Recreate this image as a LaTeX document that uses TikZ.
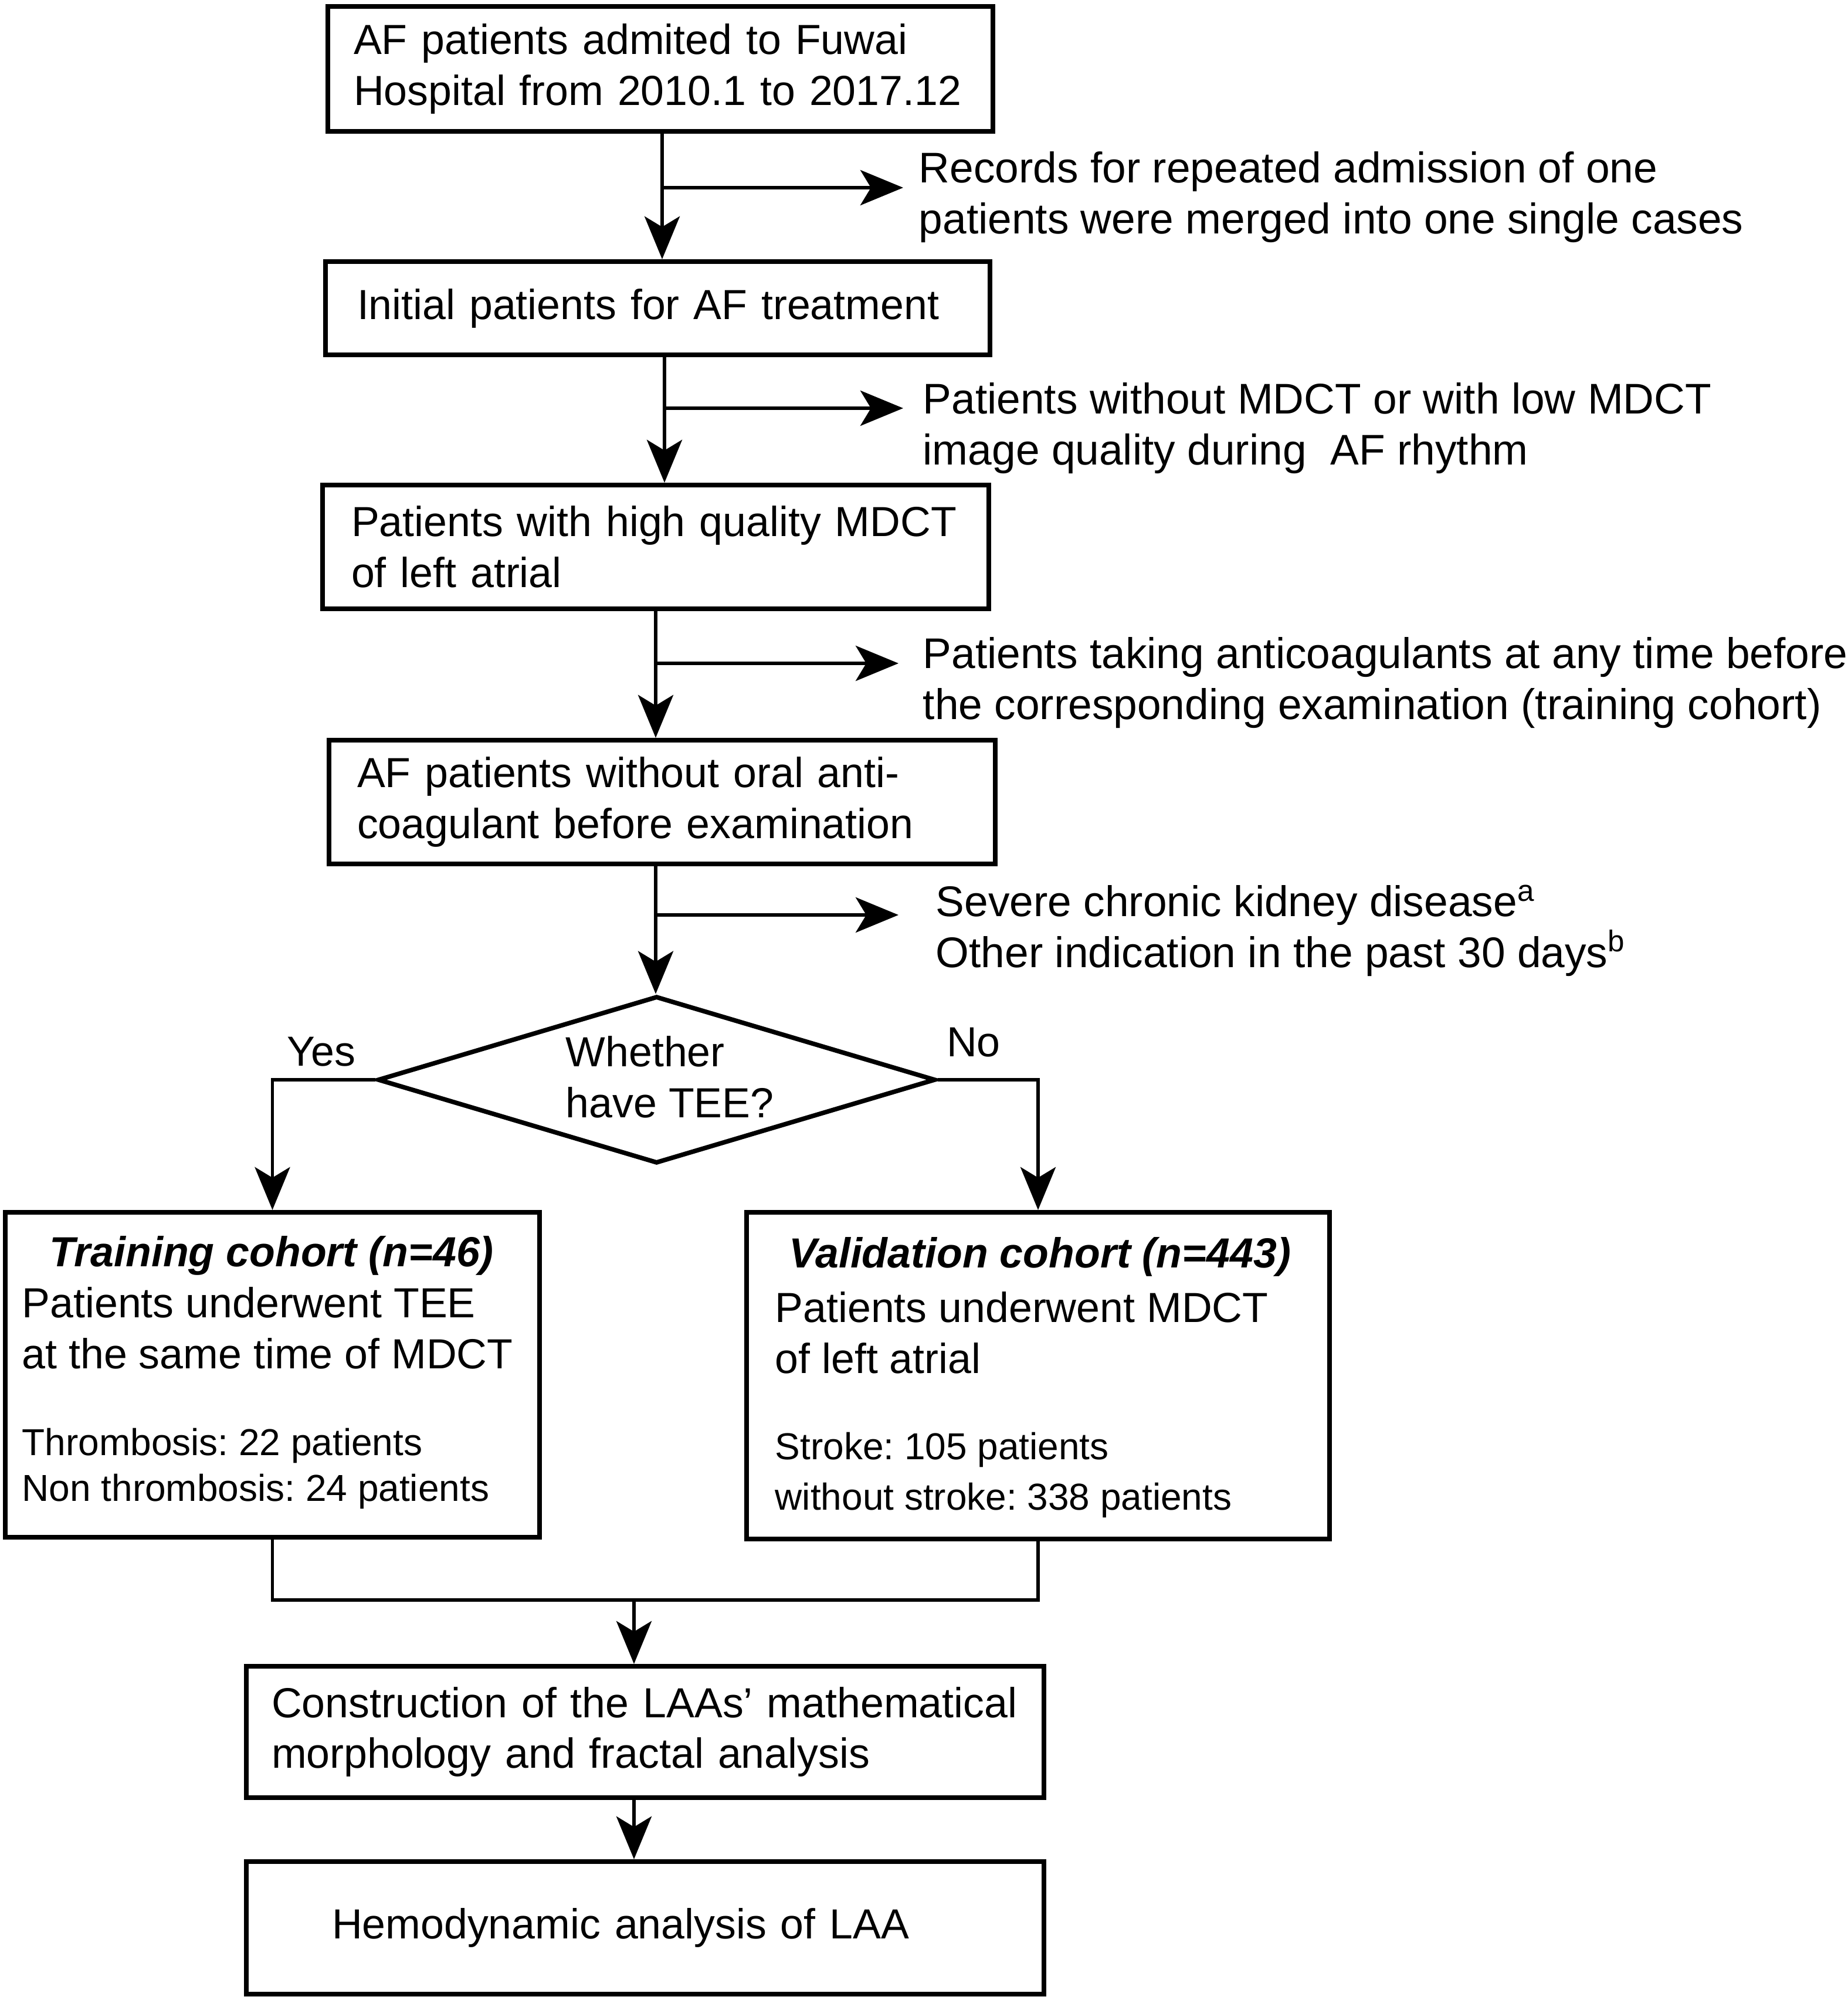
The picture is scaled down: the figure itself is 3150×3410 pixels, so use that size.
\documentclass[tikz,border=0pt]{standalone}
\usepackage{fontspec}
\setmainfont{Liberation Sans}
\usetikzlibrary{arrows.meta,shapes.geometric}

\frenchspacing
\newcommand{\bodyfont}{\fontsize{20.4}{24.7}\selectfont}
\newcommand{\notefont}{\fontsize{20.8}{24.7}\selectfont}
\newcommand{\countfont}{\fontsize{18.2}{22.4}\selectfont}

\tikzset{
  box/.style = {draw, line width=2.3pt, align=left, inner ysep=0pt},
  note/.style = {align=left, anchor=west, inner sep=0pt},
  arr/.style = {line width=1.7pt, -{Stealth[length=7.3mm, width=6mm, inset=1.8mm]}},
  link/.style = {line width=1.7pt},
}

\begin{document}
\begin{tikzpicture}[x=0.1mm, y=-0.1mm, font=\bodyfont]
    \useasboundingbox (0,0) rectangle (3150,3410);

    % main column
    \node[box, text width=104.6mm, inner xsep=4.4mm, minimum height=21.3mm] (admit) at (1126,117.5)
        {AF patients admited to Fuwai\\Hospital from 2010.1 to 2017.12};
    \node[box, text width=102.5mm, inner xsep=5.4mm, minimum height=15.9mm] (initial) at (1121.5,525.5)
        {Initial patients for AF treatment};
    \node[box, text width=103.8mm, inner xsep=4.9mm, minimum height=21.1mm] (quality) at (1118,932.5)
        {Patients with high quality MDCT\\of left atrial};
    \node[box, text width=104.0mm, inner xsep=4.8mm, minimum height=21.1mm] (noanti) at (1129,1367.5)
        {AF patients without oral anti-\\coagulant before examination};

    % exclusions on the right
    \node[note, font=\notefont] (merged) at (1566,336.5)
        {Records for repeated admission of one\\patients were merged into one single cases};
    \node[note, font=\notefont] (lowmdct) at (1573,730.5)
        {Patients without MDCT or with low MDCT\\image quality during\ \ AF rhythm};
    \node[note, font=\notefont] (anticoag) at (1573,1164.5)
        {Patients taking anticoagulants at any time before\\the corresponding examination (training cohort)};
    \node[note, font=\notefont] (exclude) at (1595,1586.5)
        {Severe chronic kidney disease\textsuperscript{a}\\Other indication in the past 30 days\textsuperscript{b}};

    % decision
    \node[diamond, draw, line width=2.2pt, inner sep=0pt, minimum width=95.1mm, minimum height=28.5mm] (tee) at (1119.5,1841) {};
    \node[note] (teetxt) at (964,1836) {Whether\\have TEE?};
    \node[inner sep=0pt] (yes) at (548,1793) {Yes};
    \node[inner sep=0pt] (no) at (1660,1777) {No};

    % cohorts
    \node[box, minimum width=91.1mm, minimum height=55.4mm] (train) at (464.5,2344) {};
    \node[inner sep=0pt, font=\bodyfont\bfseries\itshape] (trainhead) at (463,2141) {Training cohort (n=46)};
    \node[note] (trainmain) at (37,2264.5) {Patients underwent TEE\\at the same time of MDCT};
    \node[note, font=\countfont] (traincount) at (37,2504) {Thrombosis: 22 patients\\Non thrombosis: 24 patients};

    \node[box, minimum width=99.4mm, minimum height=55.7mm] (valid) at (1770,2345.5) {};
    \node[inner sep=0pt, font=\bodyfont\bfseries\itshape] (validhead) at (1773,2143) {Validation cohort (n=443)};
    \node[note] (validmain) at (1321,2272.5) {Patients underwent MDCT\\of left atrial};
    \node[note, font=\fontsize{18.2}{24.7}\selectfont] (validcount) at (1321,2515) {Stroke: 105 patients\\without stroke: 338 patients};

    % analysis
    \node[box, text width=127.4mm, inner xsep=4.3mm, minimum height=22.4mm] (morph) at (1100,2953)
        {Construction of the LAAs’ mathematical\\morphology and fractal analysis};
    \node[box, text width=106.8mm, inner xsep=14.6mm, minimum height=22.6mm] (hemo) at (1100,3287)
        {Hemodynamic analysis of LAA};

    % trunk and side arrows
    \coordinate (j1) at (1129,320);  \coordinate (t1) at (1540,320);
    \coordinate (j2) at (1133,696);  \coordinate (t2) at (1540,696);
    \coordinate (j3) at (1118,1131); \coordinate (t3) at (1532,1131);
    \coordinate (j4) at (1118,1560); \coordinate (t4) at (1532,1560);
    \draw[arr] (j1 |- admit.south) -- (j1 |- initial.north);
    \draw[arr] (j2 |- initial.south) -- (j2 |- quality.north);
    \draw[arr] (j3 |- quality.south) -- (j3 |- noanti.north);
    \draw[arr] (j4 |- noanti.south) -- (j4 |- tee.north);
    \draw[arr] (j1) -- (t1);
    \draw[arr] (j2) -- (t2);
    \draw[arr] (j3) -- (t3);
    \draw[arr] (j4) -- (t4);

    % branches
    \draw[arr] (tee.west) -| (train.north);
    \draw[arr] (tee.east) -| (valid.north);

    % merge
    \coordinate (m) at (1081,2728);
    \draw[link] (train.south) |- (m) -| (valid.south);
    \draw[arr] (m) -- (m |- morph.north);
    \draw[arr] (m |- morph.south) -- (m |- hemo.north);
\end{tikzpicture}
\end{document}
